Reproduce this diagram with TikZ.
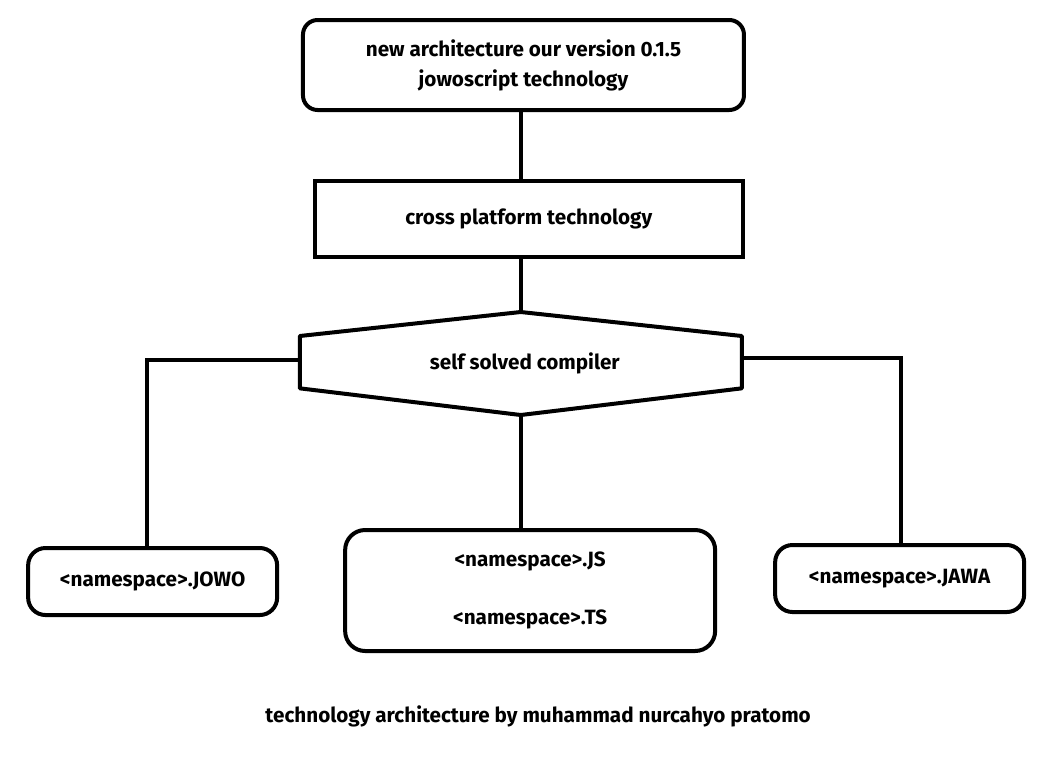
\documentclass[tikz,border=0pt]{standalone}
\usepackage{fontspec}
\setmainfont{Fira Sans}
\usepackage{tikz}
\usetikzlibrary{calc, positioning}
\tikzset{
    base/.style={rectangle, draw=black, line width=3pt, fill=white, align=center, inner sep=0pt, outer sep=0pt, font=\fontsize{15.5}{22.5}\selectfont\bfseries},
    archbox/.style={base, rounded corners=11pt, minimum width=330.75pt, minimum height=67.5pt},
    crossbox/.style={base, minimum width=321pt, minimum height=57pt},
    compiler/.style={rectangle, draw=none, align=center, inner sep=0pt, outer sep=0pt, minimum width=331.5pt, minimum height=77.25pt, font=\fontsize{15.5}{18}\selectfont\bfseries},
    target/.style={base, rounded corners=13pt, minimum width=186.75pt, minimum height=50.25pt},
    output/.style={base, rounded corners=15pt, minimum width=277.5pt, minimum height=90.75pt},
    caption/.style={font=\fontsize{15.5}{18}\selectfont\bfseries},
    link/.style={line width=3pt}
}
\begin{document}
\begin{tikzpicture}
        \useasboundingbox (0,0) rectangle (796.5pt,-576pt);
        % Main column
        \node[archbox] (Arch) at (392.6pt,-48.75pt) {new architecture our version 0.1.5\\jowoscript technology};
        \node[crossbox, below=53.25pt of Arch, xshift=4pt] (Cross) {cross platform technology};
        \node[compiler, below=41.25pt of Cross, xshift=-6pt] (Comp) {};
        \draw[link, line join=round, fill=white] (Comp.north) -- ([yshift=-18pt]Comp.north east) -- ([yshift=20pt]Comp.south east) -- (Comp.south) -- ([yshift=20pt]Comp.south west) -- ([yshift=-18pt]Comp.north west) -- cycle;
        \node[compiler, xshift=3pt] (CompText) at (Comp) {self solved compiler};
        
        % Outputs
        \node[output, below=86.25pt of Comp, xshift=7pt] (Mid) {\textless namespace\textgreater.JS\\[21pt]\textless namespace\textgreater.TS};
        \node[target, left=51pt of Mid, yshift=6.75pt] (Jowo) {\textless namespace\textgreater.JOWO};
        \node[target, right=45pt of Mid, yshift=9pt] (Jawa) {\textless namespace\textgreater.JAWA};
        
        % Caption
        \node[caption, below=53.25pt of Mid.south, anchor=base, xshift=6pt] (Note) {technology architecture by muhammad nurcahyo pratomo};
        
        % Links
        \draw[link] (Cross.north -| Comp.north) -- (Arch.south -| Comp.north);
        \draw[link] (Cross.south -| Comp.north) -- (Comp.north);
        \draw[link] (Comp.south) -- (Comp.south |- Mid.north);
        \draw[link] ([yshift=3pt]Comp.west) -| ([xshift=-4pt]Jowo.north);
        \draw[link] ([yshift=4pt]Comp.east) -| ([xshift=1pt]Jawa.north);
    \end{tikzpicture}
\end{document}
